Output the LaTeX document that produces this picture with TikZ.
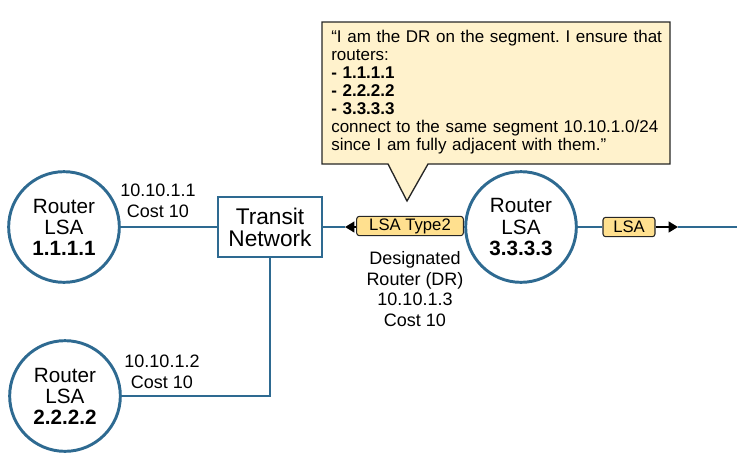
\documentclass[tikz,border=0pt]{standalone}
\usepackage{fontspec}
\setmainfont{Liberation Sans}
\usepackage{xcolor}
\usetikzlibrary{arrows.meta, positioning, calc}
\definecolor{mBlue}{HTML}{2E6A91}
\definecolor{mGold}{HTML}{FFE08F}
\definecolor{mCream}{HTML}{FFF2CC}
\frenchspacing

\begin{document}
\begin{tikzpicture}[x=0.75pt, y=-0.75pt,
    router/.style={circle, draw=mBlue, line width=2.2pt, fill=white, minimum size=83pt, inner sep=0pt, align=center, font=\fontsize{15.5}{15.8}\selectfont},
    transit/.style={rectangle, draw=mBlue, line width=1.5pt, fill=white, minimum width=78pt, minimum height=45pt, inner sep=0pt, align=center, font=\fontsize{17}{16.5}\selectfont},
    lsa/.style={rectangle, draw=black!85, fill=mGold, line width=0.8pt, rounded corners=2pt, minimum height=14.5pt, inner sep=0pt, font=\fontsize{12.5}{12.5}\selectfont},
    link/.style={draw=mBlue, line width=1.5pt},
    arrow/.style={line width=1.5pt, -{Triangle[length=7pt,width=8pt]}, black},
    lbl/.style={align=center, font=\fontsize{13.5}{15.5}\selectfont},
    bubble/.style={fill=mCream, draw=black!85, line width=1pt}
]
    \useasboundingbox (0,0) rectangle (755,457);

    % speech bubble of the DR
    \path[bubble] (322,22) -- (670,22) -- (670,164) -- (428,164) -- (407,201) -- (388,164) -- (322,164) -- cycle;
    \node[anchor=north west, align=left, text width=255pt, inner sep=0pt, font=\fontsize{12.75}{13.45}\selectfont] (note) at (331,30)
        {“I am the DR on the segment. I ensure that\\
         routers:\\
         \textbf{- 1.1.1.1}\\
         \textbf{- 2.2.2.2}\\
         \textbf{- 3.3.3.3}\\
         connect to the same segment 10.10.1.0/24\\
         since I am fully adjacent with them.”};

    % routers and the transit network
    \node[router] (r1) at (64,227) {Router\\LSA\\\textbf{1.1.1.1}};
    \node[router] (r2) at (65,396) {Router\\LSA\\\textbf{2.2.2.2}};
    \node[router] (r3) at (521,227) {Router\\LSA\\\textbf{3.3.3.3}};
    \node[transit] (tn) at (270,227) {Transit\\Network};

    \node[lsa, minimum width=80pt] (type2) at (410,226) {LSA Type2};
    \node[lsa, minimum width=39pt] (lsa) at (629,227) {LSA};
    \coordinate (tipL) at (345,227);
    \coordinate (tipR) at (678,227);
    \coordinate (far) at (737,227);

    \draw[link] (r1) -- (tn);
    \draw[link] (tn.south) |- (r2.east);
    \draw[link] (tn.east) -- (tipL);
    \draw[arrow] (type2.west |- tipL) -- (tipL);
    \draw[link] (type2.east |- r3) -- (r3.west);
    \draw[link] (r3.east) -- (lsa.west);
    \draw[arrow] (lsa.east) -- (tipR);
    \draw[link] (tipR) -- (far);

    % link labels
    \node[lbl] (ip1) at (158,201) {10.10.1.1\\Cost 10};
    \node[lbl] (ip2) at (162,372) {10.10.1.2\\Cost 10};
    \node[lbl] (dr) at (415,289) {Designated\\Router (DR)\\10.10.1.3\\Cost 10};
\end{tikzpicture}
\end{document}
